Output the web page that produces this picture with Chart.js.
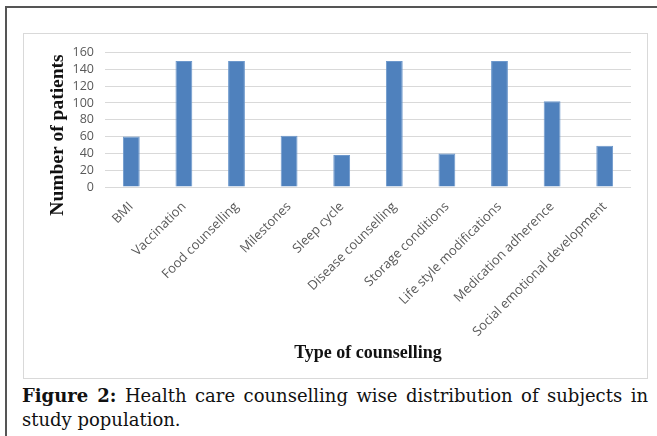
<!DOCTYPE html>
<html>
<head>
<meta charset="utf-8">
<script src="https://cdn.jsdelivr.net/npm/chart.js@4.4.0/dist/chart.umd.min.js"></script>
<style>
  html, body { margin: 0; padding: 0; background: #fff; }
  body { width: 657px; height: 436px; position: relative; overflow: hidden; }
  #frame { position: absolute; left: 5px; top: 6px; right: 0; bottom: 0;
           border-top: 2px solid #555; border-left: 2px solid #555; }
  #box { position: absolute; left: 23px; top: 33px; width: 623px; height: 344px;
         border: 1px solid #d9d9d9; }
  .cap { position: absolute; left: 22px; width: 626px;
         font-family: "DejaVu Serif", serif; font-size: 18px; line-height: 24px; color: #111; }
  #cap1 { top: 384px; text-align: justify; text-align-last: justify; }
  #cap2 { top: 408px; }
</style>
</head>
<body>
<div id="frame"></div>
<div id="box"><canvas id="chart" width="623" height="344"></canvas></div>
<div class="cap" id="cap1"><b>Figure 2:</b> Health care counselling wise distribution of subjects in</div>
<div class="cap" id="cap2">study population.</div>
<script>
const categories = ['BMI', 'Vaccination', 'Food counselling', 'Milestones', 'Sleep cycle',
    'Disease counselling', 'Storage conditions', 'Life style modifications',
    'Medication adherence', 'Social emotional development'];
const patients = [60, 150, 150, 61, 38, 150, 40, 150, 102, 49];
const yTicks = [0, 20, 40, 60, 80, 100, 120, 140, 160];
const yTitle = 'Number of patients';

// the y title in the original sits lower than the plot's middle, so draw it by hand
const yTitlePlugin = {
    id: 'yTitle',
    afterDraw(chart) {
        const c = chart.ctx;
        c.save();
        c.translate(34, 101);
        c.rotate(-Math.PI / 2);
        c.font = 'bold 19.5px "Liberation Serif"';
        c.fillStyle = '#111';
        c.textAlign = 'center';
        c.textBaseline = 'middle';
        c.fillText(yTitle, 0, 0);
        c.restore();
    }
};

const ctx = document.getElementById('chart').getContext('2d');
new Chart(ctx, {
    type: 'bar',
    data: {
        labels: categories,
        datasets: [{
            data: patients,
            backgroundColor: '#4f81bd',
            borderColor: '#6d98cc',
            borderWidth: 1,
            categoryPercentage: 1,
            barPercentage: 0.32
        }]
    },
    plugins: [yTitlePlugin],
    options: {
        responsive: false,
        animation: false,
        layout: { padding: { top: 12, right: 16, left: 19, bottom: 10 } },
        plugins: { legend: { display: false }, tooltip: { enabled: false } },
        scales: {
            y: {
                min: 0, max: 160,
                afterBuildTicks: axis => { axis.ticks = yTicks.map(v => ({ value: v })); },
                afterFit: axis => { axis.width = 62; },
                ticks: { color: '#595959', font: { family: 'Open Sans', size: 12.5 }, padding: 11, autoSkip: false },
                grid: { color: '#d9d9d9', lineWidth: 1, drawTicks: false },
                border: { display: false }
            },
            x: {
                afterFit: axis => { axis.height = 181; },
                ticks: { color: '#595959', font: { family: 'Open Sans', size: 13 },
                         minRotation: 45, maxRotation: 45, padding: 4, autoSkip: false },
                grid: { display: false },
                border: { display: false },
                title: { display: true, text: 'Type of counselling', color: '#111',
                         font: { family: 'Liberation Serif', size: 18, weight: 'bold' }, padding: { top: 4 } }
            }
        }
    }
});
</script>
</body>
</html>
